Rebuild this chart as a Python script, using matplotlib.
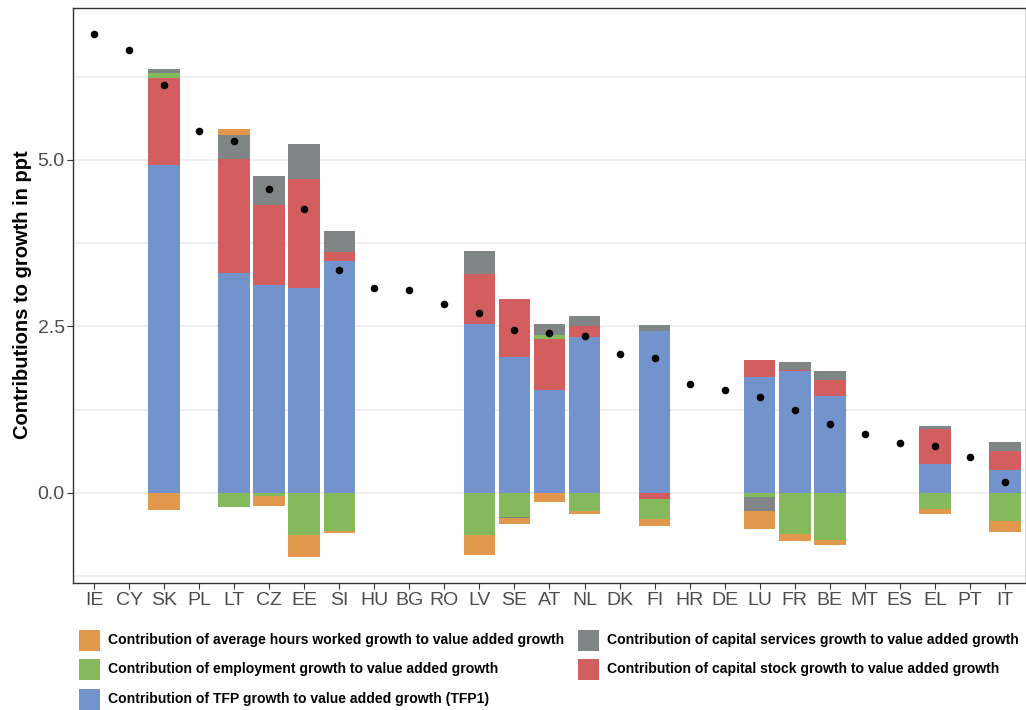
import numpy as np
import matplotlib.pyplot as plt
from matplotlib.patches import Rectangle
from matplotlib.ticker import MultipleLocator

countries = ["IE", "CY", "SK", "PL", "LT", "CZ", "EE", "SI", "HU", "BG", "RO", "LV", "SE", "AT",
             "NL", "DK", "FI", "HR", "DE", "LU", "FR", "BE", "MT", "ES", "EL", "PT", "IT"]

# value added growth (dots)
va_growth = [6.89, 6.65, 6.13, 5.43, 5.28, 4.56, 4.27, 3.35, 3.07, 3.05, 2.83, 2.70, 2.45, 2.40,
             2.35, 2.08, 2.03, 1.64, 1.55, 1.44, 1.25, 1.04, 0.89, 0.75, 0.70, 0.54, 0.17]

# contributions, ppt (0 where no breakdown is available)
tfp      = [0, 0, 4.92, 0, 3.30, 3.12, 3.07, 3.48, 0, 0, 0, 2.53, 2.04, 1.54,
            2.34, 0, 2.43, 0, 0, 1.74, 1.83, 1.45, 0, 0, 0.43, 0, 0.34]
cap_stock = [0, 0, 1.31, 0, 1.71, 1.21, 1.64, 0.13, 0, 0, 0, 0.76, 0.87, 0.77,
             0.16, 0, -0.095, 0, 0, 0.25, 0.02, 0.24, 0, 0, 0.53, 0, 0.29]
employment = [0, 0, 0.07, 0, -0.21, -0.05, -0.64, -0.58, 0, 0, 0, -0.64, -0.36, 0.06,
              -0.275, 0, -0.30, 0, 0, -0.06, -0.615, -0.705, 0, 0, -0.245, 0, -0.425]
cap_services = [0, 0, 0.07, 0, 0.36, 0.43, 0.53, 0.33, 0, 0, 0, 0.34, -0.02, 0.16,
                0.15, 0, 0.09, 0, 0, -0.21, 0.11, 0.14, 0, 0, 0.04, 0, 0.13]
avg_hours = [0, 0, -0.26, 0, 0.10, -0.15, -0.32, -0.03, 0, 0, 0, -0.29, -0.09, -0.135,
             -0.045, 0, -0.11, 0, 0, -0.27, -0.105, -0.075, 0, 0, -0.075, 0, -0.165]

lbl_hours = "Contribution of average hours worked growth to value added growth"
lbl_emp = "Contribution of employment growth to value added growth"
lbl_tfp = "Contribution of TFP growth to value added growth (TFP1)"
lbl_serv = "Contribution of capital services growth to value added growth"
lbl_stock = "Contribution of capital stock growth to value added growth"

col_hours = "#E1974C"
col_emp = "#84BA5B"
col_tfp = "#7293CB"
col_serv = "#808585"
col_stock = "#D35E60"

plt.rcParams['font.family'] = ['Liberation Sans', 'DejaVu Sans']

W, H = 1026, 710
fig = plt.figure(figsize=(W / 100, H / 100), dpi=100)
ax = fig.add_axes([73 / W, 1 - 582.7 / H, 1 - 73 / W, (582.7 - 7.5) / H])

x = np.arange(len(countries))
stack = [(tfp, col_tfp), (cap_stock, col_stock), (employment, col_emp),
         (cap_services, col_serv), (avg_hours, col_hours)]
pos_bottom = np.zeros(len(x))
neg_bottom = np.zeros(len(x))
for vals, c in stack:
    v = np.array(vals, dtype=float)
    bottom = np.where(v >= 0, pos_bottom, neg_bottom)
    ax.bar(x, v, 0.9, bottom=bottom, color=c, linewidth=0, zorder=2)
    pos_bottom += np.where(v > 0, v, 0)
    neg_bottom += np.where(v < 0, v, 0)

ax.scatter(x, va_growth, s=30, color="black", zorder=3, linewidths=0)

ax.set_xlim(-0.6, 26.6)
ax.set_ylim(-1.35, 7.29)
ax.set_xticks(x)
ax.set_xticklabels(countries)
ax.yaxis.set_minor_locator(MultipleLocator(1.25))
ax.set_yticks([0, 2.5, 5.0])
ax.set_yticklabels(["0.0", "2.5", "5.0"])
ax.grid(axis="y", which="both", color="#EBEBEB", linewidth=1.1, zorder=0)
ax.set_axisbelow(True)
ax.tick_params(axis="x", labelsize=14, colors="#4D4D4D", length=4, width=0.8, pad=3)
ax.tick_params(axis="y", which="major", labelsize=14, colors="#4D4D4D", length=4, width=0.8, pad=2)
ax.tick_params(axis="y", which="minor", length=0)
ax.tick_params(axis="both", color="#333333")
for s in ["top", "left", "bottom", "right"]:
    ax.spines[s].set_color("#333333")
    ax.spines[s].set_linewidth(1.0)

ax.set_ylabel("Contributions to growth in ppt", fontsize=14.5, fontweight="bold", labelpad=4)

# legend below the plot, two columns
legend_items = [(lbl_hours, col_hours, 79, 640), (lbl_emp, col_emp, 79, 669),
                (lbl_tfp, col_tfp, 79, 699), (lbl_serv, col_serv, 578, 640),
                (lbl_stock, col_stock, 578, 669)]
for label, c, kx, ky in legend_items:
    fig.add_artist(Rectangle((kx / W, 1 - (ky + 10.5) / H), 21 / W, 21 / H,
                             transform=fig.transFigure, color=c, linewidth=0))
    fig.text((kx + 29) / W, 1 - ky / H, label, va="center", ha="left",
             weight="bold", size=10.1)

fig.savefig("out.png", dpi=100)
